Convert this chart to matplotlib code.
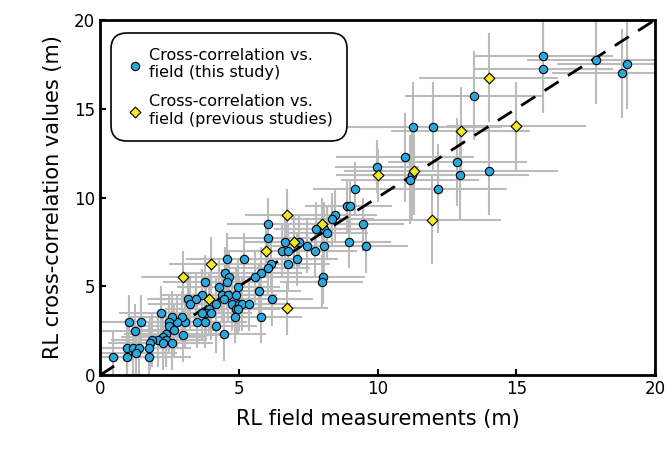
import matplotlib
matplotlib.use('Agg')
import matplotlib.pyplot as plt

# cross-correlation vs field (this study)
blue_x = [9.19, 8.89, 9.01, 8.47, 8.37, 7.77, 8.08, 8.17, 9.47, 8.97, 9.59, 7.47, 7.76, 8.08,
          7.17, 6.67, 6.57, 6.79, 6.79, 7.09, 6.07, 6.07, 6.16, 6.07, 5.79, 5.59, 8.05, 7.99,
          4.59, 5.19, 4.5, 4.66, 4.59, 3.78, 4.29, 4.98, 3.66, 3.18, 3.46, 3.24, 4.38, 4.62,
          4.89, 4.48, 3.93, 3.81, 3.66, 3.99, 4.18, 4.77, 5.01, 5.11, 5.37, 4.89, 4.98, 4.86,
          5.74, 6.19, 5.79, 4.48, 4.17, 3.78, 3.48, 3.06, 2.97, 2.76, 2.58, 2.49, 2.49, 2.67,
          2.37, 2.26, 2.37, 2.1, 1.89, 1.8, 1.77, 2.58, 2.28, 2.98, 2.19, 1.06, 1.48, 1.27,
          0.98, 1.2, 1.41, 1.29, 0.98, 1.78, 0.48,
          15.98, 15.98, 17.87, 18.98, 18.8, 13.48, 11.29, 11.99, 10.99, 9.98, 12.88, 12.97,
          14.0, 11.24, 11.17, 12.18]
blue_y = [10.5, 9.52, 9.52, 9.01, 8.77, 8.24, 8.24, 8.02, 8.49, 7.51, 7.25, 7.25, 7.0, 7.25,
          7.51, 7.51, 7.0, 7.0, 6.25, 6.51, 8.5, 7.74, 6.25, 6.01, 5.73, 5.5, 5.5, 5.26,
          6.51, 6.51, 5.73, 5.5, 5.26, 5.26, 4.98, 4.98, 4.5, 4.26, 4.26, 4.0, 4.5, 4.5,
          4.5, 4.26, 3.74, 3.49, 3.49, 3.49, 4.0, 4.0, 4.0, 4.0, 4.0, 3.74, 3.74, 3.28,
          4.74, 4.26, 3.28, 2.29, 2.76, 3.0, 3.0, 3.0, 3.25, 3.0, 3.25, 3.0, 2.76, 2.53,
          2.29, 2.12, 1.98, 1.98, 1.98, 1.8, 1.5, 1.8, 1.8, 2.25, 3.49, 3.0, 3.0, 2.49,
          1.5, 1.5, 1.5, 1.26, 1.03, 1.03, 1.03,
          17.99, 17.24, 17.75, 17.5, 17.0, 15.73, 13.98, 13.98, 12.26, 11.74, 12.0, 11.25,
          11.5, 11.25, 11.0, 10.5]

# cross-correlation vs field (previous studies)
yel_x = [6.73, 7.99, 6.99, 5.97, 3.99, 2.98, 3.94, 6.73, 14.0, 13.0, 15.0, 11.3, 10.0, 11.96]
yel_y = [9.0, 8.49, 7.49, 7.0, 6.25, 5.5, 4.3, 3.77, 16.75, 13.75, 14.0, 11.5, 11.25, 8.73]

err_small = 1.5
err_large = 2.5

fig = plt.figure(figsize=(6.67, 4.53), dpi=100)
ax = fig.add_axes([0.15, 0.172, 0.832, 0.784])

bxe = [err_large if x > 10 else err_small for x in blue_x]
yxe = [err_large if x > 10 else err_small for x in yel_x]
ax.errorbar(blue_x, blue_y, xerr=bxe, yerr=bxe, fmt='none', ecolor='#bbbbbb', elinewidth=1.5, zorder=1)
ax.errorbar(yel_x, yel_y, xerr=yxe, yerr=yxe, fmt='none', ecolor='#bbbbbb', elinewidth=1.5, zorder=1)
ax.plot([0, 20], [0, 20], color='black', ls=(0, (6, 4)), lw=2, zorder=2)
ax.scatter(blue_x, blue_y, s=36, c='#29a8e0', edgecolors='black', linewidths=0.8, zorder=3,
           label='Cross-correlation vs.\nfield (this study)')
ax.scatter(yel_x, yel_y, s=30, marker='D', c='#f5e81c', edgecolors='black', linewidths=0.8,
           zorder=4, label='Cross-correlation vs.\nfield (previous studies)')

ax.set_xlim(0, 20)
ax.set_ylim(0, 20)
ax.set_xticks([0, 5, 10, 15, 20])
ax.set_yticks([0, 5, 10, 15, 20])
ax.tick_params(labelsize=12, direction='in', length=4, width=1.5)
for s in ax.spines.values():
    s.set_linewidth(2)
ax.set_xlabel('RL field measurements (m)', fontsize=15, labelpad=8)
ax.set_ylabel('RL cross-correlation values (m)', fontsize=15, labelpad=8)

leg = ax.legend(loc='upper left', fontsize=11.5, frameon=True, fancybox=True, edgecolor='black',
                handletextpad=0.3, borderpad=0.9, labelspacing=0.9, handlelength=1.2,
                bbox_to_anchor=(0.005, 0.985))
leg.get_frame().set_linewidth(1.2)
leg.get_frame().set_alpha(1)
leg.get_frame().set_boxstyle('round', pad=0, rounding_size=1.0)

fig.savefig('out.png', dpi=100)
